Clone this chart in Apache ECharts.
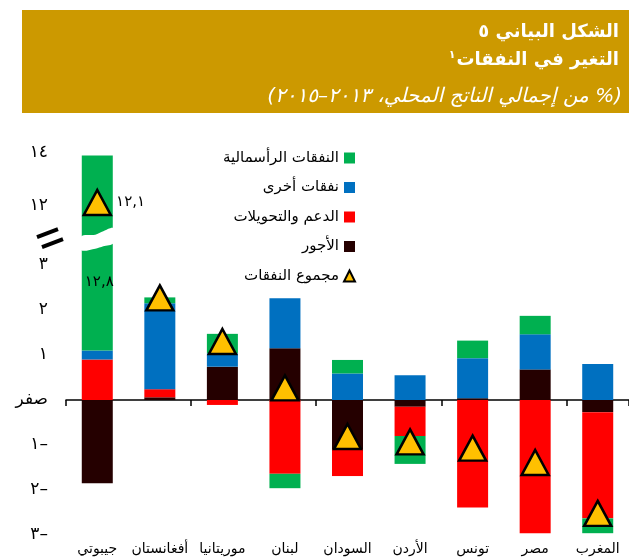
<!DOCTYPE html>
<html lang="en" dir="ltr">
<head>
    <meta charset="UTF-8">
    <title>chart</title>
    <style>
        html, body {margin: 0; padding: 0; background: #fff;}
    </style>
</head>
<body>
<div id="chart" dir="ltr" style="width: 629px;height: 559px;direction: ltr"></div>
<script src="https://cdn.jsdelivr.net/npm/echarts@6.0.0/dist/echarts.min.js"></script>
<script>
    // data (% of GDP, change 2013-2015)
    const categories = ['جيبوتي', 'أفغانستان', 'موريتانيا', 'لبنان', 'السودان', 'الأردن', 'تونس', 'مصر', 'المغرب']
    const wages = [-1.85, 0.06, 0.74, 1.15, -1.09, -0.15, 0.04, 0.68, -0.27]
    const subsidies = [0.9, 0.18, -0.11, -1.64, -0.6, -0.65, -2.39, -2.96, -2.36]
    const otherSpending = [0.2, 1.91, 0.3, 1.11, 0.59, 0.55, 0.89, 0.78, 0.8]
    const capital = [12.8, 0.13, 0.43, -0.32, 0.3, -0.62, 0.39, 0.41, -0.33]
    const totals = [12.1, 2.27, 1.3, 0.27, -0.81, -0.93, -1.07, -1.39, -2.52]
    const yTickValues = [-3, -2, -1, 0, 1, 2, 3, 12, 14]
    const yTickLabels = ['٣–', '٢–', '١–', 'صفر', '١', '٢', '٣', '١٢', '١٤']
    const seriesNames = ['النفقات الرأسمالية', 'نفقات أخرى', 'الدعم والتحويلات', 'الأجور', 'مجموع النفقات']

    // broken axis: above the break values are squeezed
    const BREAK_AT = 3.64
    const AXIS_12 = 4.33
    const UPPER_SCALE = 0.58
    const toAxis = v => v <= BREAK_AT ? v : AXIS_12 + (v - 12) * UPPER_SCALE

    // stack in real values, then map the stack edges onto the axis
    function stackForAxis(list) {
        const pos = categories.map(() => 0)
        return list.map(values => values.map((v, i) => {
            if (v < 0) return v
            const top = pos[i] + v
            const d = toAxis(top) - toAxis(pos[i])
            pos[i] = top
            return d
        }))
    }
    const [wagesAx, subsidiesAx, otherAx, capitalAx] = stackForAxis([wages, subsidies, otherSpending, capital])

    const colors = {capital: '#00B050', other: '#0070C0', subsidies: '#FF0000', wages: '#250000', total: '#FFC000'}

    const dom = document.getElementById('chart')
    const chart = echarts.init(dom)

    const barBase = {
        type: 'bar',
        stack: 'spend',
        barWidth: 31,
        xAxisIndex: 0,
        yAxisIndex: 0
    }

    chart.setOption({
        animation: false,
        textStyle: {fontFamily: 'DejaVu Sans'},
        grid: {left: 66, top: 148, width: 570, height: 387},
        legend: {
            orient: 'vertical',
            right: 268,
            top: 144,
            align: 'right',
            itemWidth: 11,
            itemHeight: 11,
            itemGap: 11.5,
            textStyle: {fontSize: 15, lineHeight: 18, color: '#000'},
            data: [
                {name: seriesNames[0], icon: 'rect'},
                {name: seriesNames[1], icon: 'rect'},
                {name: seriesNames[2], icon: 'rect'},
                {name: seriesNames[3], icon: 'rect'},
                {name: seriesNames[4], icon: 'triangle'}
            ]
        },
        xAxis: [
            {
                type: 'category',
                data: categories,
                axisLine: {onZero: true, lineStyle: {color: '#000', width: 1.5}},
                axisTick: {show: true, length: 6, lineStyle: {color: '#000', width: 1.5}},
                axisLabel: {show: false}
            },
            {
                type: 'category',
                data: categories,
                position: 'bottom',
                axisLine: {show: false, onZero: false},
                axisTick: {show: false},
                axisLabel: {color: '#000', fontSize: 14, margin: 7, interval: 0}
            }
        ],
        yAxis: {
            type: 'value',
            min: -3,
            max: 5.6,
            axisLine: {show: false},
            axisTick: {show: false},
            splitLine: {show: false},
            axisLabel: {
                customValues: yTickValues.map(toAxis),
                formatter: v => {
                    const i = yTickValues.map(toAxis).findIndex(t => Math.abs(t - v) < 1e-6)
                    return i < 0 ? '' : yTickLabels[i]
                },
                color: '#000',
                fontSize: 17,
                margin: 18
            }
        },
        series: [
            Object.assign({}, barBase, {name: seriesNames[3], data: wagesAx, itemStyle: {color: colors.wages}}),
            Object.assign({}, barBase, {name: seriesNames[2], data: subsidiesAx, itemStyle: {color: colors.subsidies}}),
            Object.assign({}, barBase, {name: seriesNames[1], data: otherAx, itemStyle: {color: colors.other}}),
            Object.assign({}, barBase, {
                name: seriesNames[0],
                itemStyle: {color: colors.capital},
                data: capitalAx.map((v, i) => i === 0 ? {
                    value: v,
                    label: {
                        show: true, position: 'inside', offset: [2, 29],
                        formatter: '١٢,٨', color: '#000', fontSize: 15
                    }
                } : v)
            }),
            {
                name: seriesNames[4],
                type: 'scatter',
                symbol: 'triangle',
                symbolSize: [27, 25],
                z: 5,
                itemStyle: {color: colors.total, borderColor: '#000', borderWidth: 2.5, opacity: 1},
                data: totals.map((v, i) => i === 0 ? {
                    value: toAxis(v),
                    label: {show: true, position: 'right', distance: 4, formatter: '١٢,١', color: '#000', fontSize: 15}
                } : toAxis(v))
            }
        ]
    })

    // header band + axis break marks
    const yb = chart.convertToPixel({yAxisIndex: 0}, BREAK_AT)
    const xDj = chart.convertToPixel({xAxisIndex: 0}, categories[0])
    const xl = xDj - 16, xr = xDj + 16

    // subtitle "(% من إجمالي الناتج المحلي، ٢٠١٣–٢٠١٥)" laid out piece by piece
    // in its right-to-left reading order, so the page direction cannot shuffle it
    const subFont = 'italic 20px DejaVu Sans'
    const subtitleParts = [['(', 0], ['٢٠١٥', 0], ['–', 0], ['٢٠١٣', 1], ['،', 0], ['المحلي', 1],
        ['الناتج', 1], ['إجمالي', 1], ['من', 1], ['%', 0], [')', 0]]
    const measure = document.createElement('canvas').getContext('2d')
    measure.font = subFont
    const spaceW = measure.measureText(' ').width
    const partW = subtitleParts.map(([t, gap]) => measure.measureText(t).width + gap * spaceW)
    let subX = 622 - partW.reduce((a, b) => a + b, 0)
    const subtitleEls = subtitleParts.map(([t], i) => {
        const el = {
            type: 'text', x: subX, y: 97,
            style: {text: t, fill: '#fff', font: subFont, align: 'left', verticalAlign: 'middle'}
        }
        subX += partW[i]
        return el
    })

    chart.setOption({
        graphic: [
            {type: 'rect', shape: {x: 22, y: 10, width: 607, height: 103}, style: {fill: '#CC9900'}},
            {
                type: 'text', x: 619, y: 32,
                style: {text: 'الشكل البياني ٥', fill: '#fff', font: 'bold 18px DejaVu Sans', align: 'right', verticalAlign: 'middle'}
            },
            {
                type: 'text', x: 619, y: 60,
                style: {
                    text: '{s|١}{t|التغير في النفقات}',
                    align: 'right', verticalAlign: 'middle',
                    rich: {
                        s: {fill: '#fff', font: 'bold 11px DejaVu Sans', verticalAlign: 'top', padding: [0, 1, 10, 0]},
                        t: {fill: '#fff', font: 'bold 18px DejaVu Sans'}
                    }
                }
            },
            ...subtitleEls,
            {type: 'line', shape: {x1: 37, y1: yb + 1, x2: 58, y2: yb - 7}, style: {stroke: '#000', lineWidth: 4}},
            {type: 'line', shape: {x1: 42, y1: yb + 11, x2: 63, y2: yb + 3}, style: {stroke: '#000', lineWidth: 4}},
            {
                type: 'polygon', z: 10,
                shape: {
                    smooth: 0.3,
                    points: [[xl, yb], [xl + 14, yb - 1.5], [xl + 22, yb - 5], [xr, yb - 8],
                        [xr, yb + 7], [xl + 22, yb + 10], [xl + 14, yb + 12.5], [xl, yb + 14]]
                },
                style: {fill: '#fff'}
            }
        ]
    })

    window.addEventListener('resize', () => {
        chart.resize()
    })
</script>
</body>
</html>
